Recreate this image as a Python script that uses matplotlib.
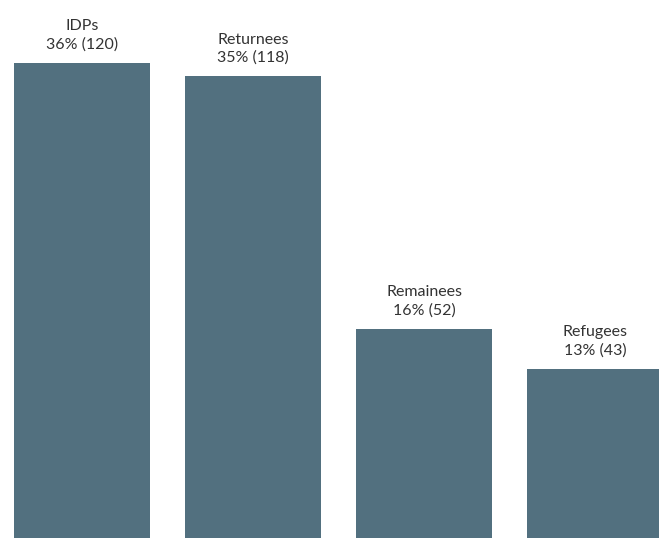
import matplotlib
matplotlib.use("Agg")
import matplotlib.pyplot as plt

categories = ["IDPs", "Returnees", "Remainees", "Refugees"]
percents = [36, 35, 16, 13]
counts = [120, 118, 52, 43]

BAR_COLOR = "#52707f"
TEXT_COLOR = "#333333"

fig = plt.figure(figsize=(6.59, 5.38), dpi=100)
ax = fig.add_axes([0, 0, 1, 1])

x = range(len(categories))
bars = ax.bar(x, percents, width=0.795, color=BAR_COLOR)

# category name and share above each bar
for bar, cat, pct, n in zip(bars, categories, percents, counts):
    ax.annotate(f"{cat}\n{pct}% ({n})",
                xy=(bar.get_x() + bar.get_width() / 2, bar.get_height()),
                xytext=(0, 8), textcoords="offset points",
                ha="center", va="bottom", fontsize=11.5, color=TEXT_COLOR,
                family="Lato", linespacing=1.35)

ax.set_xlim(-0.4795, 3.374)
ax.set_ylim(0.26, 40.71)
ax.axis("off")

fig.savefig("out.png", dpi=100, facecolor="white")
